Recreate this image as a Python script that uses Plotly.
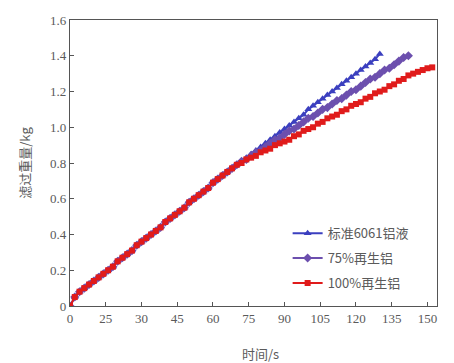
import plotly.graph_objects as go

# ---- data ----
shared_vals = [0.00, 0.05, 0.08, 0.10, 0.12, 0.14, 0.16, 0.18, 0.20, 0.22,
               0.25, 0.27, 0.29, 0.31, 0.34, 0.36, 0.38, 0.40, 0.42, 0.44,
               0.47, 0.49, 0.51, 0.53, 0.55, 0.58, 0.60, 0.62, 0.64, 0.66,
               0.69, 0.71, 0.73, 0.75, 0.77, 0.79]  # t = 0..70 s, step 2

std6061_tail = [0.81, 0.83, 0.85, 0.87, 0.89, 0.91, 0.93, 0.95, 0.97, 0.99,
                1.01, 1.03, 1.05, 1.07, 1.10, 1.12, 1.14, 1.16, 1.18, 1.20,
                1.22, 1.24, 1.26, 1.28, 1.30, 1.32, 1.34, 1.36, 1.38, 1.41]  # 72..130

r75_tail = [0.81, 0.82, 0.84, 0.86, 0.87, 0.89, 0.91, 0.93, 0.94, 0.96,
            0.98, 0.99, 1.01, 1.03, 1.05, 1.06, 1.08, 1.10, 1.11, 1.13,
            1.15, 1.16, 1.18, 1.20, 1.21, 1.23, 1.25, 1.27, 1.28, 1.30,
            1.32, 1.33, 1.35, 1.37, 1.39, 1.40]  # 72..142

r100_tail = [0.80, 0.82, 0.83, 0.84, 0.86, 0.87, 0.88, 0.90, 0.91, 0.92,
             0.93, 0.95, 0.96, 0.98, 0.99, 1.00, 1.02, 1.03, 1.05, 1.06,
             1.07, 1.09, 1.10, 1.12, 1.13, 1.14, 1.16, 1.17, 1.19, 1.20,
             1.21, 1.23, 1.24, 1.26, 1.27, 1.29, 1.30, 1.31, 1.32, 1.33, 1.335]  # 72..152

std6061_vals = shared_vals + std6061_tail
r75_vals = shared_vals + r75_tail
r100_vals = shared_vals + r100_tail

std6061_t = list(range(0, 131, 2))
r75_t = list(range(0, 143, 2))
r100_t = list(range(0, 153, 2))

series_names = ["标准6061铝液", "75%再生铝", "100%再生铝"]
x_title = "时间/s"
y_title = "滤过重量/kg"
x_tickvals = [0, 15, 30, 45, 60, 75, 90, 105, 120, 135, 150]
x_ticktext = ["0", "25", "30", "45", "60", "75", "90", "105", "120", "135", "150"]
y_tickvals = [0, 0.2, 0.4, 0.6, 0.8, 1.0, 1.2, 1.4, 1.6]
y_ticktext = ["0", "0.2", "0.4", "0.6", "0.8", "1.0", "1.2", "1.4", "1.6"]

serif = "Liberation Serif, Times New Roman, serif"
cjk = "Noto Sans CJK SC"
txt_color = "#5a5a5a"

fig = go.Figure()
fig.add_trace(go.Scatter(x=std6061_t, y=std6061_vals, name=series_names[0],
                         mode="lines+markers", legendgroup="a",
                         line=dict(color="#3b3fbf", width=2),
                         marker=dict(symbol="triangle-up", size=7, color="#3b3fbf")))
fig.add_trace(go.Scatter(x=r75_t, y=r75_vals, name=series_names[1],
                         mode="lines+markers", legendgroup="b",
                         line=dict(color="#6c4fae", width=2),
                         marker=dict(symbol="diamond", size=7, color="#6c4fae")))
fig.add_trace(go.Scatter(x=r100_t, y=r100_vals, name=series_names[2],
                         mode="lines+markers", legendgroup="c",
                         line=dict(color="#e01b1b", width=2),
                         marker=dict(symbol="square", size=6, color="#e01b1b")))

axis_common = dict(showline=True, linecolor="#555555", linewidth=1.2, mirror=True,
                   ticks="inside", ticklen=4, tickcolor="#555555",
                   showgrid=False, zeroline=False,
                   tickfont=dict(family=serif, size=13, color=txt_color))

fig.update_xaxes(range=[0, 154], tickvals=x_tickvals, ticktext=x_ticktext,
                 automargin=False, **axis_common)
fig.update_yaxes(range=[0, 1.6], tickvals=y_tickvals, ticktext=y_ticktext,
                 title=dict(text=y_title, font=dict(family=cjk, size=13, color=txt_color), standoff=16),
                 **axis_common)

fig.add_annotation(text=x_title, xref="paper", yref="paper", x=0.52, y=-0.165,
                   xanchor="center", yanchor="middle", showarrow=False,
                   font=dict(family=cjk, size=13, color=txt_color))

fig.update_layout(
    width=454, height=363,
    margin=dict(l=70, r=17, t=20, b=57),
    plot_bgcolor="white", paper_bgcolor="white",
    showlegend=True,
    legend=dict(x=0.593, y=0.307, xanchor="left", yanchor="top",
                bgcolor="rgba(0,0,0,0)", borderwidth=0,
                font=dict(family=cjk, size=13, color=txt_color),
                itemwidth=30, tracegroupgap=5),
)

fig.write_html("out.html", config={"displayModeBar": False},
               post_script="document.body.style.margin='0';document.body.style.overflow='hidden';")
